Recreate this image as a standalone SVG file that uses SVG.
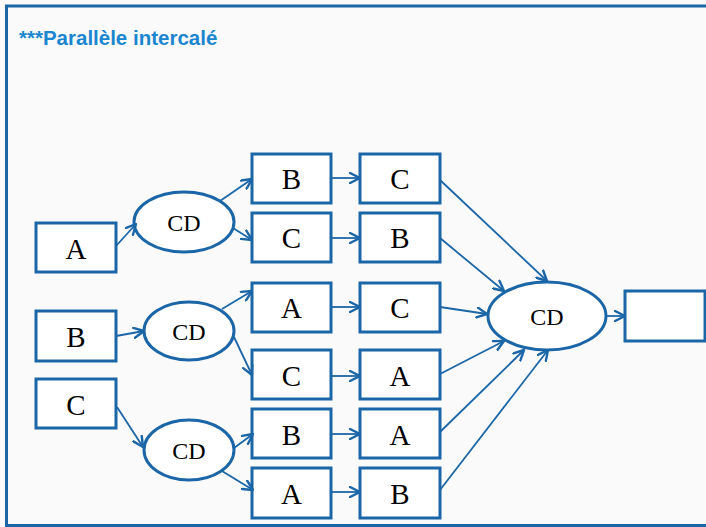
<svg xmlns="http://www.w3.org/2000/svg" width="706" height="527" viewBox="0 0 706 527">
  <defs>
    <marker id="arrow" viewBox="0 0 12 12" refX="11" refY="6" markerWidth="12" markerHeight="12" markerUnits="userSpaceOnUse" orient="auto">
      <path d="M1,1 L11,6 L1,11" fill="none" stroke="#1b66a6" stroke-width="2.4" stroke-linecap="round" stroke-linejoin="round"/>
    </marker>
  </defs>
  <style>
    .box { fill: #ffffff; stroke: #1b66a6; stroke-width: 3; }
    .ell { fill: #ffffff; stroke: #1b66a6; stroke-width: 3; }
    .lbl { font-family: "Liberation Serif", "Times New Roman", serif; font-size: 29px; fill: #000; text-anchor: middle; }
    .cd { font-family: "Liberation Serif", "Times New Roman", serif; font-size: 24px; fill: #000; text-anchor: middle; }
    .conn line { stroke: #1b66a6; stroke-width: 1.8; marker-end: url(#arrow); }
    .title { font-family: "Liberation Sans", Arial, sans-serif; font-size: 20.5px; font-weight: bold; fill: #1a86d0; }
  </style>

  <!-- background and frame -->
  <rect x="0" y="0" width="706" height="527" fill="#fafafa"/>
  <path d="M6.5,527 L6.5,6 L706,6" fill="none" stroke="#1b66a6" stroke-width="3"/>
  <line x1="6" y1="525.5" x2="706" y2="525.5" stroke="#1b66a6" stroke-width="3"/>

  <text class="title" x="19" y="45">***Parallèle intercalé</text>

  <!-- inputs -->
  <g id="in-a"><rect class="box" x="36" y="223" width="80" height="49"/><text class="lbl" x="76" y="259">A</text></g>
  <g id="in-b"><rect class="box" x="36" y="311" width="80" height="50"/><text class="lbl" x="76" y="347">B</text></g>
  <g id="in-c"><rect class="box" x="36" y="379" width="80" height="49"/><text class="lbl" x="76" y="415">C</text></g>

  <!-- first-level CD -->
  <g id="cd1"><ellipse class="ell" cx="184" cy="222" rx="50" ry="30"/><text class="cd" x="184" y="231">CD</text></g>
  <g id="cd2"><ellipse class="ell" cx="189" cy="331" rx="45" ry="29"/><text class="cd" x="189" y="340">CD</text></g>
  <g id="cd3"><ellipse class="ell" cx="189" cy="450" rx="45" ry="30"/><text class="cd" x="189" y="459">CD</text></g>

  <!-- second column -->
  <g id="r1c2"><rect class="box" x="252" y="154" width="79" height="49"/><text class="lbl" x="291.5" y="189">B</text></g>
  <g id="r2c2"><rect class="box" x="252" y="213" width="79" height="49"/><text class="lbl" x="291.5" y="248">C</text></g>
  <g id="r3c2"><rect class="box" x="252" y="283" width="79" height="49"/><text class="lbl" x="291.5" y="318">A</text></g>
  <g id="r4c2"><rect class="box" x="252" y="350" width="79" height="49"/><text class="lbl" x="291.5" y="386">C</text></g>
  <g id="r5c2"><rect class="box" x="252" y="409" width="79" height="49"/><text class="lbl" x="291.5" y="445">B</text></g>
  <g id="r6c2"><rect class="box" x="252" y="468" width="79" height="50"/><text class="lbl" x="291.5" y="504">A</text></g>

  <!-- third column -->
  <g id="r1c3"><rect class="box" x="360" y="154" width="80" height="49"/><text class="lbl" x="400" y="189">C</text></g>
  <g id="r2c3"><rect class="box" x="360" y="213" width="80" height="49"/><text class="lbl" x="400" y="248">B</text></g>
  <g id="r3c3"><rect class="box" x="360" y="283" width="80" height="49"/><text class="lbl" x="400" y="318">C</text></g>
  <g id="r4c3"><rect class="box" x="360" y="350" width="80" height="49"/><text class="lbl" x="400" y="386">A</text></g>
  <g id="r5c3"><rect class="box" x="360" y="409" width="80" height="49"/><text class="lbl" x="400" y="445">A</text></g>
  <g id="r6c3"><rect class="box" x="360" y="468" width="80" height="50"/><text class="lbl" x="400" y="504">B</text></g>

  <!-- final merge -->
  <g id="cd-final"><ellipse class="ell" cx="547" cy="316" rx="59" ry="34"/><text class="cd" x="547" y="325">CD</text></g>
  <g id="output"><rect class="box" x="625" y="291" width="80" height="50"/></g>

  <g id="connectors" class="conn">
    <line x1="116" y1="246" x2="136" y2="224"/>
    <line x1="220" y1="201" x2="252" y2="179"/>
    <line x1="233" y1="228" x2="252" y2="240"/>
    <line x1="116" y1="336" x2="144" y2="331"/>
    <line x1="222" y1="309" x2="252" y2="291"/>
    <line x1="234" y1="337" x2="252" y2="375"/>
    <line x1="117" y1="407" x2="143" y2="447"/>
    <line x1="234" y1="448" x2="253" y2="434"/>
    <line x1="222" y1="471" x2="253" y2="490"/>

    <line x1="331" y1="178" x2="360" y2="178"/>
    <line x1="331" y1="238" x2="360" y2="238"/>
    <line x1="331" y1="307" x2="360" y2="307"/>
    <line x1="331" y1="376" x2="360" y2="376"/>
    <line x1="331" y1="434" x2="360" y2="434"/>
    <line x1="331" y1="492" x2="360" y2="492"/>

    <line x1="440" y1="180" x2="547" y2="281"/>
    <line x1="440" y1="238" x2="504" y2="291"/>
    <line x1="440" y1="307" x2="487" y2="314"/>
    <line x1="440" y1="374" x2="504" y2="341"/>
    <line x1="440" y1="432" x2="524" y2="350"/>
    <line x1="440" y1="490" x2="548" y2="350"/>

    <line x1="606" y1="316" x2="625" y2="316"/>
  </g>
</svg>
